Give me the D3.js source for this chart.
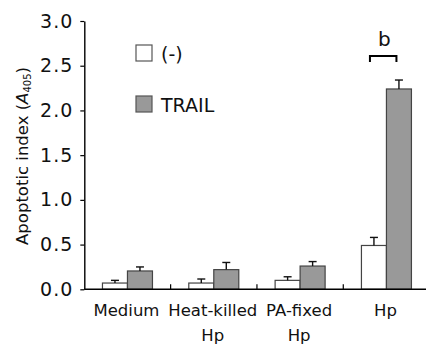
<!DOCTYPE html>
<html>
<head>
<meta charset="utf-8">
<script src="https://cdn.jsdelivr.net/npm/d3@7"></script>
<style>
  html, body { margin: 0; padding: 0; background: #fff; }
  svg { display: block; font-family: "DejaVu Sans", Verdana, sans-serif; }
</style>
</head>
<body>
<div id="chart"></div>
<script>
// === DATA ===
const categories = ["Medium", "Heat-killed\nHp", "PA-fixed\nHp", "Hp"];
const seriesNames = ["(-)", "TRAIL"];
const controlValues = [0.07, 0.07, 0.10, 0.49];
const controlErrors = [0.03, 0.045, 0.04, 0.09];
const trailValues = [0.205, 0.22, 0.26, 2.24];
const trailErrors = [0.045, 0.08, 0.05, 0.10];
const yTicks = [0, 0.5, 1.0, 1.5, 2.0, 2.5, 3.0];
const bracketGroup = "Hp";
const bracketLabel = "b";

// === LAYOUT ===
const W = 426, H = 345;
const fill = { "(-)": "#ffffff", "TRAIL": "#999999" };
const barW = 25;

const svg = d3.select("#chart").append("svg")
  .attr("width", W).attr("height", H);

const x = d3.scaleBand().domain(categories).range([84.3, 429.6]).padding(0);
const y = d3.scaleLinear().domain([0, 3]).range([289.3, 21]);

// rows built from the arrays
const rows = [];
categories.forEach((c, i) => {
  rows.push({ cat: c, series: "(-)", value: controlValues[i], err: controlErrors[i], k: 0 });
  rows.push({ cat: c, series: "TRAIL", value: trailValues[i], err: trailErrors[i], k: 1 });
});
const barX = d => x(d.cat) + x.bandwidth() / 2 - barW + d.k * barW;

// === BARS ===
svg.append("g").selectAll("rect")
  .data(rows)
  .join("rect")
  .attr("x", barX)
  .attr("y", d => y(d.value))
  .attr("width", barW)
  .attr("height", d => y(0) - y(d.value))
  .attr("fill", d => fill[d.series])
  .attr("stroke", "#444")
  .attr("stroke-width", 1.2);

// error bars (upper only)
const eb = svg.append("g").attr("stroke", "#111").attr("stroke-width", 1.4);
eb.selectAll("line.v").data(rows).join("line").attr("class", "v")
  .attr("x1", d => barX(d) + barW / 2).attr("x2", d => barX(d) + barW / 2)
  .attr("y1", d => y(d.value)).attr("y2", d => y(d.value + d.err));
eb.selectAll("line.c").data(rows).join("line").attr("class", "c")
  .attr("x1", d => barX(d) + barW / 2 - 4).attr("x2", d => barX(d) + barW / 2 + 4)
  .attr("y1", d => y(d.value + d.err)).attr("y2", d => y(d.value + d.err));

// === Y AXIS ===
const yAxis = svg.append("g")
  .attr("transform", `translate(${x.range()[0]},0)`)
  .call(d3.axisLeft(y).tickValues(yTicks).tickFormat(d3.format(".1f"))
    .tickSize(4).tickSizeOuter(0).tickPadding(7));
yAxis.select(".domain").attr("stroke", "#000").attr("stroke-width", 1.4);
yAxis.selectAll(".tick line").attr("stroke", "#000").attr("stroke-width", 1.2);
yAxis.selectAll(".tick text")
  .attr("font-size", 19).attr("fill", "#111")
  .style("font-family", "DejaVu Sans, sans-serif")
  .attr("letter-spacing", 1);

// y title
const yt = svg.append("text")
  .attr("transform", "translate(28,156) rotate(-90)")
  .attr("text-anchor", "middle")
  .attr("font-size", 16.5).attr("fill", "#111");
yt.append("tspan").text("Apoptotic index (");
yt.append("tspan").attr("font-style", "italic").text("A");
yt.append("tspan").attr("font-size", 10).attr("dy", 3).text("405");
yt.append("tspan").attr("dy", -3).text(")");

// === X AXIS ===
const x0 = x.range()[0], y0 = y(0);
svg.append("line")
  .attr("x1", x0).attr("x2", W).attr("y1", y0).attr("y2", y0)
  .attr("stroke", "#000").attr("stroke-width", 1.4);
svg.append("g").selectAll("line")
  .data(categories.slice(1))
  .join("line")
  .attr("x1", d => x(d)).attr("x2", d => x(d))
  .attr("y1", y0).attr("y2", y0 - 5)
  .attr("stroke", "#000").attr("stroke-width", 1.2);

const labels = svg.append("g").selectAll("text")
  .data(categories)
  .join("text")
  .attr("text-anchor", "middle")
  .attr("font-size", 16.5).attr("fill", "#111");
labels.selectAll("tspan")
  .data(d => d.split("\n").map(t => ({ t, c: d })))
  .join("tspan")
  .attr("x", d => x(d.c) + x.bandwidth() / 2 - 1)
  .attr("y", (d, i) => 316 + i * 25)
  .text(d => d.t);

// === LEGEND ===
const leg = svg.append("g").selectAll("g")
  .data(seriesNames)
  .join("g")
  .attr("transform", (d, i) => `translate(136,${45 + i * 51})`);
leg.append("rect")
  .attr("width", 16).attr("height", 16)
  .attr("fill", d => fill[d]).attr("stroke", "#555").attr("stroke-width", 1.2);
leg.append("text")
  .attr("x", 25).attr("y", 15.5)
  .attr("font-size", 19).attr("fill", "#111")
  .text(d => d);

// === SIGNIFICANCE BRACKET ===
const bx = x(bracketGroup) + x.bandwidth() / 2;
svg.append("path")
  .attr("d", `M${bx - 16.5},62 V56 H${bx + 10} V62`)
  .attr("fill", "none").attr("stroke", "#000").attr("stroke-width", 2);
svg.append("text")
  .attr("x", bx - 2).attr("y", 45.5)
  .attr("text-anchor", "middle")
  .attr("font-size", 20).attr("fill", "#111")
  .text(bracketLabel);
</script>
</body>
</html>
